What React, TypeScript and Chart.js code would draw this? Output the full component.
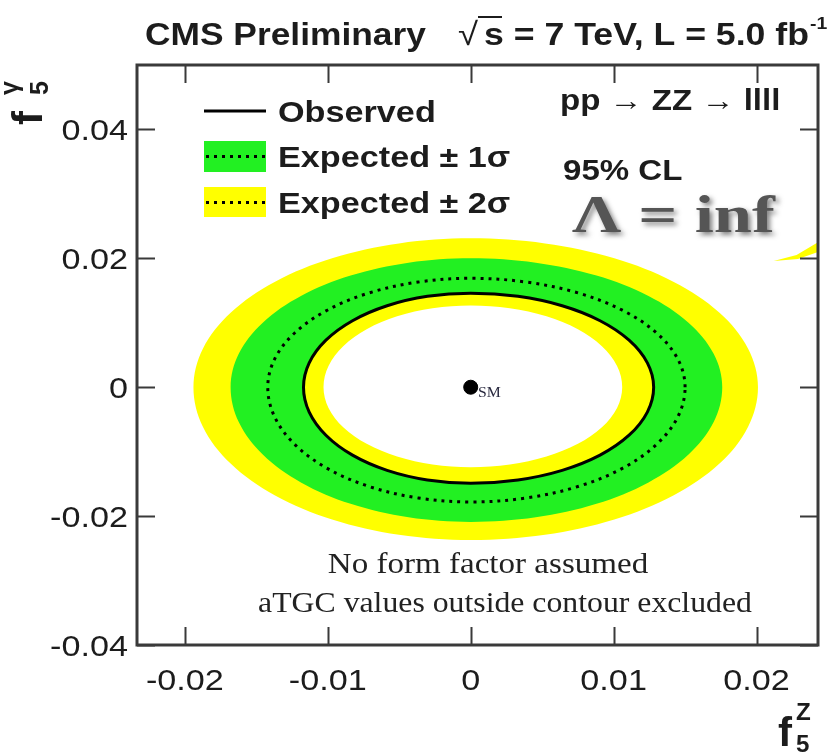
import React, { useEffect, useRef } from "react";
import { Chart, registerables } from "chart.js";

Chart.register(...registerables);

// Axis ticks
const xTickValues = [-0.02, -0.01, 0, 0.01, 0.02];
const xTickLabels = ["-0.02", "-0.01", "0", "0.01", "0.02"];
const yTickValues = [-0.04, -0.02, 0, 0.02, 0.04];
const yTickLabels = ["-0.04", "-0.02", "0", "0.02", "0.04"];

const X_MIN = -0.02335;
const X_MAX = 0.0243;
const Y_MIN = -0.04;
const Y_MAX = 0.05;

type Pt = [number, number];

// Expected +-2 sigma band, outer edge (f5Z, f5gamma)
const twoSigmaOuter: Pt[] = [
  [0.0201, 0], [0.01941, 0.00598], [0.01741, 0.01155], [0.01421, 0.01633], [0.01005, 0.02], [0.0052, 0.02231],
  [0, 0.0231], [-0.00502, 0.02231], [-0.0097, 0.02], [-0.01372, 0.01633], [-0.0168, 0.01155], [-0.01874, 0.00598],
  [-0.0194, 0], [-0.01874, -0.00613], [-0.0168, -0.01185], [-0.01372, -0.01676], [-0.0097, -0.02052], [-0.00502, -0.02289],
  [0, -0.0237], [0.0052, -0.02289], [0.01005, -0.02052], [0.01421, -0.01676], [0.01741, -0.01185], [0.01941, -0.00613],
];

// Expected +-1 sigma band, outer edge
const oneSigmaOuter: Pt[] = [
  [0.0176, 0], [0.017, 0.00518], [0.01524, 0.01], [0.01244, 0.01414], [0.0088, 0.01732], [0.00455, 0.01932],
  [0, 0.02], [-0.00435, 0.01932], [-0.0084, 0.01732], [-0.01188, 0.01414], [-0.01455, 0.01], [-0.01623, 0.00518],
  [-0.0168, 0], [-0.01623, -0.00541], [-0.01455, -0.01045], [-0.01188, -0.01478], [-0.0084, -0.0181], [-0.00435, -0.02019],
  [0, -0.0209], [0.00455, -0.02019], [0.0088, -0.0181], [0.01244, -0.01478], [0.01524, -0.01045], [0.017, -0.00541],
];

// Expected limit contour (dotted)
const expectedContour: Pt[] = [
  [0.015, 0], [0.01449, 0.00437], [0.01299, 0.00845], [0.01061, 0.01195], [0.0075, 0.01464], [0.00388, 0.01632],
  [0, 0.0169], [-0.00367, 0.01632], [-0.0071, 0.01464], [-0.01004, 0.01195], [-0.0123, 0.00845], [-0.01372, 0.00437],
  [-0.0142, 0], [-0.01372, -0.00461], [-0.0123, -0.0089], [-0.01004, -0.01259], [-0.0071, -0.01541], [-0.00367, -0.01719],
  [0, -0.0178], [0.00388, -0.01719], [0.0075, -0.01541], [0.01061, -0.01259], [0.01299, -0.0089], [0.01449, -0.00461],
];

// Observed limit contour (solid); also the inner edge of the 1 sigma band
const observedContour: Pt[] = [
  [0.0128, 0], [0.01236, 0.00378], [0.01108, 0.0073], [0.00905, 0.01032], [0.0064, 0.01264], [0.00331, 0.0141],
  [0, 0.0146], [-0.00303, 0.0141], [-0.00585, 0.01264], [-0.00827, 0.01032], [-0.01013, 0.0073], [-0.0113, 0.00378],
  [-0.0117, 0], [-0.0113, -0.00386], [-0.01013, -0.00745], [-0.00827, -0.01054], [-0.00585, -0.0129], [-0.00303, -0.01439],
  [0, -0.0149], [0.00331, -0.01439], [0.0064, -0.0129], [0.00905, -0.01054], [0.01108, -0.00745], [0.01236, -0.00386],
];

// Expected +-2 sigma band, inner edge
const twoSigmaInner: Pt[] = [
  [0.0106, 0], [0.01024, 0.00329], [0.00918, 0.00635], [0.0075, 0.00898], [0.0053, 0.011], [0.00274, 0.01227],
  [0, 0.0127], [-0.00267, 0.01227], [-0.00515, 0.011], [-0.00728, 0.00898], [-0.00892, 0.00635], [-0.00995, 0.00329],
  [-0.0103, 0], [-0.00995, -0.00321], [-0.00892, -0.0062], [-0.00728, -0.00877], [-0.00515, -0.01074], [-0.00267, -0.01198],
  [0, -0.0124], [0.00274, -0.01198], [0.0053, -0.01074], [0.0075, -0.00877], [0.00918, -0.0062], [0.01024, -0.00321],
];

// Small +-2 sigma island entering from the right edge
const twoSigmaIsland: Pt[] = [
  [0.0212, 0.0196], [0.0228, 0.0205], [0.0246, 0.0229], [0.0246, 0.0212], [0.0229, 0.0199],
];

// Standard Model point
const smPoint: Pt[] = [[0, 0]];

const toXY = (pts: Pt[]) => pts.map(([x, y]) => ({ x, y }));

const SX = 1.14; // horizontal text stretch

function stretchedText(
  ctx: CanvasRenderingContext2D,
  text: string,
  x: number,
  y: number,
  font: string,
  color: string,
  align: CanvasTextAlign = "left",
  sx = SX
): number {
  ctx.save();
  ctx.font = font;
  ctx.fillStyle = color;
  ctx.textAlign = align;
  ctx.textBaseline = "alphabetic";
  ctx.translate(x, y);
  ctx.scale(sx, 1);
  ctx.fillText(text, 0, 0);
  const w = ctx.measureText(text).width * sx;
  ctx.restore();
  return w;
}

const SANS = '"Liberation Sans", Arial, Helvetica, sans-serif';
const SERIF = '"Liberation Serif", "Times New Roman", serif';

// Contours are closed curves: let the line element join the last point back to the first
const closedContours = {
  id: "closedContours",
  afterDatasetUpdate(chart: any, args: any) {
    const ds = chart.data.datasets[args.index];
    if (!ds.closed) return;
    const line = chart.getDatasetMeta(args.index).dataset;
    if (!line) return;
    line._loop = true;
    line._fullLoop = true;
    delete line._segments;
    delete line._path;
    line._pointsUpdated = false;
  },
};

const decorPlugin = {
  id: "cmsDecor",
  afterDraw(chart: any) {
    const { ctx, chartArea: a, scales } = chart;
    const xs = scales.x;
    const ys = scales.y;
    const ink = "#1c1c1c";

    ctx.save();
    // frame
    ctx.strokeStyle = "#3a3a3a";
    ctx.lineWidth = 3;
    ctx.strokeRect(a.left, a.top, a.right - a.left, a.bottom - a.top);

    // inward ticks
    ctx.lineWidth = 2;
    ctx.beginPath();
    xTickValues.forEach((v) => {
      const px = Math.round(xs.getPixelForValue(v)) + 0.5;
      ctx.moveTo(px, a.bottom);
      ctx.lineTo(px, a.bottom - 18);
      ctx.moveTo(px, a.top);
      ctx.lineTo(px, a.top + 18);
    });
    yTickValues.forEach((v) => {
      const py = Math.round(ys.getPixelForValue(v)) + 0.5;
      ctx.moveTo(a.left, py);
      ctx.lineTo(a.left + 18, py);
      ctx.moveTo(a.right, py);
      ctx.lineTo(a.right - 18, py);
    });
    ctx.stroke();

    // tick labels
    const tickFont = `30px ${SANS}`;
    xTickValues.forEach((v, i) => {
      stretchedText(ctx, xTickLabels[i], xs.getPixelForValue(v), a.bottom + 45, tickFont, ink, "center");
    });
    yTickValues.forEach((v, i) => {
      stretchedText(ctx, yTickLabels[i], a.left - 9, ys.getPixelForValue(v) + 11, tickFont, ink, "right");
    });

    // title
    const titleFont = `bold 31px ${SANS}`;
    stretchedText(ctx, "CMS Preliminary", 145, 45, titleFont, ink);
    stretchedText(ctx, "\u221A", 458, 45, `32px ${SANS}`, ink);
    ctx.strokeStyle = ink;
    ctx.lineWidth = 2;
    ctx.beginPath();
    ctx.moveTo(478, 17);
    ctx.lineTo(502, 17);
    ctx.stroke();
    const w = stretchedText(ctx, "s = 7 TeV, L = 5.0 fb", 484, 45, titleFont, ink, "left", 1.15);
    stretchedText(ctx, "-1", 484 + w + 1, 29, `bold 17px ${SANS}`, ink);

    // axis titles
    ctx.save();
    ctx.translate(42, 125);
    ctx.rotate(-Math.PI / 2);
    ctx.fillStyle = ink;
    ctx.font = `bold 42px ${SANS}`;
    ctx.fillText("f", 0, 0);
    ctx.font = `bold 25px ${SANS}`;
    ctx.fillText("5", 30, 6);
    ctx.fillText("\u03B3", 30, -24);
    ctx.restore();

    stretchedText(ctx, "f", 778, 746, `bold 40px ${SANS}`, ink, "left", 1.05);
    stretchedText(ctx, "Z", 796, 720, `bold 23px ${SANS}`, ink, "left", 1.05);
    stretchedText(ctx, "5", 796, 752, `bold 23px ${SANS}`, ink, "left", 1.05);

    // legend
    const lx0 = 204;
    const lx1 = 266;
    ctx.lineWidth = 3;
    ctx.strokeStyle = "#000";
    ctx.beginPath();
    ctx.moveTo(lx0, 111);
    ctx.lineTo(lx1, 111);
    ctx.stroke();

    ctx.fillStyle = "#22f022";
    ctx.fillRect(lx0, 141, lx1 - lx0, 31);
    ctx.fillStyle = "#ffff00";
    ctx.fillRect(lx0, 187, lx1 - lx0, 30);
    ctx.setLineDash([3, 5]);
    ctx.lineWidth = 3;
    ctx.beginPath();
    ctx.moveTo(lx0 + 2, 156.5);
    ctx.lineTo(lx1, 156.5);
    ctx.moveTo(lx0 + 2, 202.5);
    ctx.lineTo(lx1, 202.5);
    ctx.stroke();
    ctx.setLineDash([]);

    const legFont = `bold 30px ${SANS}`;
    stretchedText(ctx, "Observed", 278, 122, legFont, ink);
    stretchedText(ctx, "Expected \u00B1 1\u03C3", 278, 167, legFont, ink);
    stretchedText(ctx, "Expected \u00B1 2\u03C3", 278, 213, legFont, ink);

    // annotations
    stretchedText(ctx, "pp \u2192 ZZ \u2192 llll", 560, 110, `bold 29px ${SANS}`, ink);
    stretchedText(ctx, "95% CL", 563, 180, `bold 29px ${SANS}`, ink);

    ctx.save();
    ctx.shadowColor = "rgba(50,50,50,0.6)";
    ctx.shadowBlur = 5;
    ctx.shadowOffsetX = 3;
    ctx.shadowOffsetY = 3;
    stretchedText(ctx, "\u039B = inf", 572, 232, `bold 52px ${SERIF}`, "#555555", "left", 1.32);
    ctx.restore();

    stretchedText(ctx, "SM", 478, 397, `15px ${SERIF}`, "#2a2a40", "left", 1.05);

    const noteFont = `29px ${SERIF}`;
    stretchedText(ctx, "No form factor assumed", 488, 573, noteFont, "#222", "center");
    stretchedText(ctx, "aTGC values outside contour excluded", 505, 612, noteFont, "#222", "center", 1.095);

    ctx.restore();
  },
};

export default function App() {
  const canvasRef = useRef<HTMLCanvasElement | null>(null);

  useEffect(() => {
    const canvas = canvasRef.current;
    if (!canvas) return;

    const band = (pts: Pt[], color: string, order: number) => ({
      data: toXY(pts),
      closed: true,
      showLine: true,
      fill: "shape",
      backgroundColor: color,
      borderColor: "rgba(0,0,0,0)",
      borderWidth: 0,
      pointRadius: 0,
      tension: 0.35,
      order,
    });

    const chart = new Chart(canvas, {
      type: "scatter",
      data: {
        datasets: [
          {
            label: "SM",
            data: toXY(smPoint),
            pointRadius: 7,
            backgroundColor: "#000",
            borderColor: "#000",
            showLine: false,
            order: 0,
          },
          { label: "2 sigma inner", ...band(twoSigmaInner, "#ffffff", 1) },
          {
            label: "Observed",
            data: toXY(observedContour),
            closed: true,
            showLine: true,
            fill: "shape",
            backgroundColor: "#ffff00",
            borderColor: "#000",
            borderWidth: 3,
            pointRadius: 0,
            tension: 0.35,
            order: 2,
          },
          {
            label: "Expected",
            data: toXY(expectedContour),
            closed: true,
            showLine: true,
            fill: false,
            borderColor: "#000",
            borderWidth: 3,
            borderDash: [3, 5],
            pointRadius: 0,
            tension: 0.35,
            order: 3,
          },
          { label: "Expected +-1 sigma", ...band(oneSigmaOuter, "#22f022", 4) },
          { label: "Expected +-2 sigma", ...band(twoSigmaOuter, "#ffff00", 5) },
          { label: "2 sigma island", ...band(twoSigmaIsland, "#ffff00", 5), tension: 0 },
        ] as any,
      },
      options: {
        responsive: false,
        maintainAspectRatio: false,
        animation: false,
        devicePixelRatio: 1,
        events: [],
        layout: { padding: { top: 65, right: 18, left: 0, bottom: 0 } },
        plugins: {
          legend: { display: false },
          tooltip: { enabled: false },
          title: { display: false },
        },
        scales: {
          x: {
            type: "linear",
            min: X_MIN,
            max: X_MAX,
            grid: { display: false },
            border: { display: false },
            ticks: { display: false, stepSize: 0.01, includeBounds: false },
            afterFit: (s: any) => {
              s.height = 110;
            },
          },
          y: {
            type: "linear",
            min: Y_MIN,
            max: Y_MAX,
            grid: { display: false },
            border: { display: false },
            ticks: { display: false, stepSize: 0.02, includeBounds: false },
            afterFit: (s: any) => {
              s.width = 137;
            },
          },
        },
      } as any,
      plugins: [closedContours, decorPlugin],
    });

    return () => chart.destroy();
  }, []);

  return (
    <div style={{ position: "absolute", left: 0, top: 0, width: 836, height: 755, background: "#fff" }}>
      <canvas ref={canvasRef} width={836} height={755} style={{ display: "block" }} />
    </div>
  );
}
